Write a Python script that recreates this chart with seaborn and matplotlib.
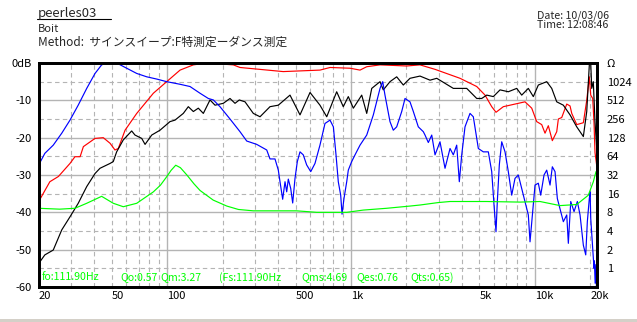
import matplotlib
matplotlib.use("Agg")
import matplotlib.pyplot as plt
import seaborn as sns
import numpy as np
from matplotlib.lines import Line2D
from matplotlib.patches import Rectangle

# ---------------- data ----------------
imp_freq = [20, 26, 31.5, 36.5, 44, 50.9, 57.7, 68.3, 84.1, 92, 99.4, 105, 111.3, 118, 128,
            140, 151, 178, 211, 244, 294, 506, 651, 948, 1167, 1565, 2095, 2375, 2986, 3458,
            5476, 8310, 10676, 13716, 16910, 19550, 20820, 21530]
imp_ohm = [9.3, 9.0, 9.3, 11.2, 14.5, 11.2, 9.85, 11.2, 17.1, 22, 30, 38, 46, 42, 32,
           23, 18, 12.6, 10.1, 8.9, 8.46, 8.46, 8.0, 8.0, 8.7, 9.3, 10.1, 10.5, 11.5, 11.96,
           11.96, 11.7, 11.96, 10.27, 10.7, 15.1, 24.9, 36.3]

red_freq = [20, 23.0, 25.6, 29.6, 31.5, 33.6, 35.0, 40.5, 44.9, 48.9, 52.0, 54.2, 59.0, 68.3,
            84.1, 99.4, 117.5, 138.8, 164, 229, 249, 428, 678, 769, 988, 1120, 1218, 1439,
            2010, 2374, 2866, 3920, 4832, 5362, 5830, 6152, 6742, 7642, 8848, 9624, 10244,
            10906, 11368, 11848, 12458, 13164, 13432, 14016, 14922, 15550, 15888, 16914,
            18372, 19170, 19800, 20152, 20658, 20998, 21262, 21720]
red_db = [-37.1, -31.8, -30.4, -26.9, -25.1, -25.1, -22.4, -20.2, -20.0, -21.5, -23.3, -22.9,
          -18.0, -13.5, -8.1, -5.0, -1.9, -0.5, 0, -0.5, -1.2, -2.3, -1.9, -1.2, -1.4, -1.9,
          -1.0, -0.5, -0.8, -0.5, -1.7, -4.1, -6.3, -8.6, -11.7, -13.2, -11.7, -11.1, -10.4,
          -12.1, -15.7, -16.5, -18.8, -16.8, -20.8, -18.4, -15.0, -14.6, -11.0, -11.5, -13.5,
          -16.5, -16.0, -10.0, -3.7, -8.6, -9.5, -16.0, -24.0, -27.5]

blk_freq = [20, 21.6, 24.0, 26.7, 29.6, 32.8, 36.5, 40.5, 43.1, 48.9, 50.9, 53.1, 57.7, 64.1,
            66.8, 72.7, 75.8, 82.4, 91.4, 103.6, 110.3, 122.4, 130.3, 138.8, 147.7, 157.3,
            171.0, 182.1, 202, 219.7, 233.9, 246.8, 265.2, 294.2, 320, 362.6, 402.4, 465.8,
            528, 598.6, 678, 738, 836, 908, 967, 1030, 1144, 1218, 1297, 1439, 1499, 1630,
            1773, 1926, 2094, 2374, 2692, 2928, 3604, 4262, 4832, 5144, 5476, 5948, 6470,
            7178, 7974, 8490, 9222, 9818, 10452, 11612, 12364, 13164, 14300, 15552, 16914,
            18372, 19170, 19800, 20152, 20406, 20814, 21262, 21720]
blk_db = [-53.7, -51.4, -50.1, -44.7, -41.2, -37.6, -33.1, -29.6, -28.2, -26.9, -26.4, -23.8,
          -20.6, -18.2, -19.3, -20.2, -21.8, -19.3, -18.0, -15.7, -15.3, -13.5, -11.7, -13.0,
          -12.1, -13.5, -9.9, -11.3, -10.8, -9.5, -10.8, -9.9, -10.4, -13.5, -14.4, -11.7,
          -11.3, -8.6, -13.9, -7.9, -11.3, -14.4, -7.7, -11.7, -9.0, -12.1, -8.6, -13.5, -6.8,
          -5.0, -7.2, -5.0, -3.7, -5.9, -4.1, -3.5, -4.6, -4.1, -6.8, -6.8, -9.5, -9.5, -8.6,
          -9.0, -7.2, -7.7, -6.8, -8.6, -6.8, -9.0, -5.9, -5.0, -6.8, -10.4, -11.3, -13.9,
          -17.1, -19.7, -13.0, -0.5, 0, -6.8, -5.0, -15.7, -22.9]

blu_freq = [20, 21.6, 24.0, 26.7, 29.6, 32.8, 36.5, 40.5, 44.0, 46.9, 53.1, 60.2, 68.3, 77.4,
            87.7, 99.4, 117.5, 133.1, 150.9, 167.4, 178.3, 193.8, 219.7, 249, 270.9, 307, 348,
            362.6, 386, 402.4, 411, 425, 437.6, 447, 456, 470, 481.8, 496, 510.6, 528, 550,
            574, 604, 637, 678, 722, 769, 802, 829, 853, 879, 894, 916, 948, 967, 1009, 1052,
            1120, 1218, 1323, 1439, 1488, 1531, 1630, 1699, 1773, 1888, 1968, 2094, 2184,
            2324, 2475, 2528, 2635, 2750, 2866, 3050, 3248, 3458, 3604, 3760, 3885, 4004,
            4172, 4442, 4630, 4930, 5248, 5588, 5830, 6000, 6152, 6254, 6412, 6608, 6888,
            7178, 7490, 7806, 8136, 8490, 8848, 9222, 9420, 9746, 10030, 10452, 10770, 11226,
            11612, 12104, 12458, 12886, 13264, 13842, 14300, 14922, 15224, 15690, 16352,
            17042, 17628, 18372, 18932, 19314, 19800, 20000, 20152, 20658, 20998, 21100,
            21300, 21500, 21650, 21994]
blu_db = [-27.3, -24.2, -22.0, -18.8, -15.3, -11.3, -6.8, -2.8, -0.5, 0, 0, -1.4, -2.8, -3.7,
          -4.3, -5.0, -5.7, -6.3, -8.1, -9.5, -9.9, -11.7, -15.0, -18.4, -20.9, -21.8, -23.3,
          -25.7, -25.7, -28.7, -31.8, -36.5, -31.8, -34.5, -31.1, -33.6, -37.5, -30.9, -26.4,
          -23.8, -24.6, -27.3, -29.1, -26.9, -22.0, -16.2, -15.3, -17.1, -24.6, -31.8, -35.4,
          -40.5, -36.3, -31.8, -28.7, -26.4, -24.6, -22.0, -19.3, -13.9, -6.8, -5.0, -8.6,
          -15.7, -18.0, -17.1, -13.0, -9.5, -10.4, -13.0, -17.1, -18.4, -19.3, -21.3, -19.3,
          -24.6, -21.1, -28.2, -22.9, -24.6, -22.0, -31.8, -24.6, -17.1, -13.5, -14.4, -22.9,
          -23.8, -23.8, -29.1, -38.0, -45.2, -37.1, -27.3, -21.1, -23.8, -29.1, -35.4, -30.9,
          -30.0, -33.6, -37.1, -40.7, -47.9, -39.8, -32.7, -32.2, -35.4, -30.0, -28.7, -32.7,
          -27.8, -29.1, -36.3, -39.8, -42.5, -40.7, -48.3, -37.1, -39.8, -37.1, -40.7, -48.8,
          -51.4, -42.5, -36.3, -34.5, -41.6, -49.6, -55.0, -53.0, -59.0, -54.0, -60.0, -60.0]

x_ticks = [20, 50, 100, 500, 1000, 5000, 10000, 20000]
x_tick_labels = ["20", "50", "100", "500", "1k", "5k", "10k", "20k"]
y_ticks = [0, -10, -20, -30, -40, -50, -60]
y_tick_labels = ["0dB", "-10", "-20", "-30", "-40", "-50", "-60"]
ohm_ticks = [1, 2, 4, 8, 16, 32, 64, 128, 256, 512, 1024, 2048]
ohm_tick_labels = ["1", "2", "4", "8", "16", "32", "64", "128", "256", "512", "1024", "Ω"]

params = [("fo:111.90Hz", 41.7), ("Qo:0.57", 120), ("Qm:3.27", 160), ("(Fs:111.90Hz", 219),
          ("Qms:4.69", 301.7), ("Qes:0.76", 356), ("Qts:0.65)", 410)]

# ---------------- figure ----------------
sns.set_theme(style="white")
FONT = ["Noto Sans CJK JP", "DejaVu Sans"]
plt.rcParams["font.family"] = FONT

W, H = 637, 322
fig = plt.figure(figsize=(W / 100, H / 100), dpi=100)
fig.patch.set_facecolor("white")
fig.add_artist(Rectangle((0, 0), 1, 3.5 / H, transform=fig.transFigure,
                         facecolor="#d4d0c8", edgecolor="none"))

L, R, T, B = 38.7, 597, 63, 287
ax = fig.add_axes([L / W, 1 - B / H, (R - L) / W, (B - T) / H])
ax.set_xscale("log")
ax.set_xlim(20, 21800)
ax.set_ylim(-60, 0)

# grid
grid_c = "#b4b4b4"
dash = (0, (4, 3))
for dec in [10, 100, 1000, 10000]:
    for m in range(1, 10):
        f = dec * m
        if f <= 20 or f > 21800:
            continue
        if m == 1:
            ax.axvline(f, color=grid_c, lw=1.0, zorder=0)
        else:
            ax.axvline(f, color=grid_c, lw=0.8, ls=dash, zorder=0)
for v in range(-55, 0, 5):
    if v % 10 == 0:
        ax.axhline(v, color=grid_c, lw=1.0, zorder=0)
    else:
        ax.axhline(v, color=grid_c, lw=0.8, ls=dash, zorder=0)

ax2 = ax.twinx()
ax2.set_yscale("log", base=2)
ax2.set_ylim(0.5, 2048)

lw = 0.85
sns.lineplot(x=imp_freq, y=imp_ohm, ax=ax2, color="#00ff00", lw=lw, estimator=None, sort=False)
sns.lineplot(x=red_freq, y=red_db, ax=ax, color="#ff0000", lw=lw, estimator=None, sort=False)
sns.lineplot(x=blk_freq, y=blk_db, ax=ax, color="#000000", lw=lw, estimator=None, sort=False)
sns.lineplot(x=blu_freq, y=blu_db, ax=ax, color="#0000ff", lw=lw, estimator=None, sort=False)
ax.set_xlim(20, 21800)
ax.set_ylim(-60, 0)
ax2.set_ylim(0.5, 2048)

ax.set_xticks(x_ticks)
ax.set_xticklabels(x_tick_labels, ha="left")
ax.xaxis.set_minor_locator(matplotlib.ticker.NullLocator())
ax.set_yticks(y_ticks)
ax.set_yticklabels(y_tick_labels)
ax2.set_yticks(ohm_ticks)
ax2.set_yticklabels(ohm_tick_labels)
ax2.yaxis.set_minor_locator(matplotlib.ticker.NullLocator())
for a in (ax, ax2):
    a.set_xlabel("")
    a.set_ylabel("")
ax.tick_params(axis="both", length=0, labelsize=8, colors="black")
ax.tick_params(axis="x", pad=3)
ax.tick_params(axis="y", pad=5)
ax2.tick_params(axis="y", length=0, labelsize=8, pad=7, colors="black")
for a in (ax, ax2):
    for s in a.spines.values():
        s.set_visible(True)
        s.set_color("black")
        s.set_linewidth(2.0)

# parameter text (green)
for txt, px in params:
    fig.text(px / W, 1 - 277.5 / H, txt, color="#00ff00", fontsize=7.6,
             ha="left", va="center", family=FONT)

# header
fig.text(37.5 / W, 1 - 13.5 / H, "peerles03", fontsize=9.5, ha="left", va="center", family=FONT)
fig.add_artist(Line2D([37 / W, 111 / W], [1 - 18.5 / H, 1 - 18.5 / H], color="black", lw=0.8,
                      transform=fig.transFigure))
fig.text(37.5 / W, 1 - 29.5 / H, "Boit", fontsize=8, ha="left", va="center", family=FONT)
fig.text(37.5 / W, 1 - 42 / H, "Method:  サインスイープ:F特測定ーダンス測定", fontsize=8.5,
         ha="left", va="center", family=FONT)
fig.text(537 / W, 1 - 20.3 / H, "Date: 10/03/06\nTime: 12:08:46", fontsize=7.6,
         ha="left", va="center", linespacing=0.78, family=FONT)

fig.savefig("out.png", dpi=100, facecolor="white")
